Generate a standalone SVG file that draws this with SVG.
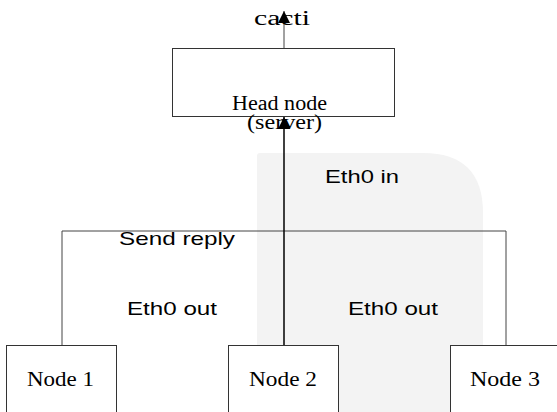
<svg xmlns="http://www.w3.org/2000/svg" width="557" height="412" viewBox="0 0 557 412">
<defs>
<style>
.box{fill:#fff;stroke:#333;stroke-width:1}
.ln{fill:none;stroke:#444;stroke-width:1}
.arr{fill:none;stroke:#000;stroke-width:1.5}
.serif{font-family:"Liberation Serif","Times New Roman",serif;font-size:20px;fill:#000}
.sans{font-family:"Liberation Sans",Arial,sans-serif;font-size:19px;fill:#000}
</style>
<marker id="ah2" viewBox="0 0 10 10" refX="10" refY="5" markerWidth="13" markerHeight="12" markerUnits="userSpaceOnUse" orient="auto">
<path d="M0,0 L10,5 L0,10 Z" fill="#000"/>
</marker>
</defs>
<rect width="557" height="412" fill="#fff"/>
<path d="M257,156 Q257,153 260,153 L423,153 Q483,153 483,213 L483,412 L257,412 Z" fill="#f3f3f3"/>
<g id="connectors">
<polyline class="ln" points="62,345 62,231 506,231 506,345"/>
<line class="arr" x1="284" y1="345" x2="284" y2="117" marker-end="url(#ah2)"/>
<line class="ln" x1="284" y1="48" x2="284" y2="11" marker-end="url(#ah2)"/>
</g>
<g id="cacti"><text class="serif" x="254" y="25" textLength="56" lengthAdjust="spacingAndGlyphs" font-size="23">cacti</text></g>
<g id="head">
<rect class="box" x="172.5" y="48.5" width="222" height="68"/>
<text class="serif" x="232" y="110" textLength="95" lengthAdjust="spacingAndGlyphs">Head node</text>
<text class="serif" x="247" y="129" textLength="75" lengthAdjust="spacingAndGlyphs" font-size="19">(server)</text>
</g>
<g id="labels">
<text class="sans" x="325" y="183" textLength="74" lengthAdjust="spacingAndGlyphs">Eth0 in</text>
<text class="sans" x="119" y="245" textLength="116" lengthAdjust="spacingAndGlyphs">Send reply</text>
<text class="sans" x="127" y="315" textLength="90" lengthAdjust="spacingAndGlyphs">Eth0 out</text>
<text class="sans" x="348" y="315" textLength="90" lengthAdjust="spacingAndGlyphs">Eth0 out</text>
</g>
<g id="node1">
<rect class="box" x="6.5" y="345.5" width="110" height="80"/>
<text class="serif" x="27" y="386" textLength="67" lengthAdjust="spacingAndGlyphs" font-size="21">Node 1</text>
</g>
<g id="node2">
<rect class="box" x="228.5" y="345.5" width="110" height="80"/>
<text class="serif" x="249" y="386" textLength="68" lengthAdjust="spacingAndGlyphs" font-size="21">Node 2</text>
</g>
<g id="node3">
<rect class="box" x="450.5" y="345.5" width="110" height="80"/>
<text class="serif" x="470" y="386" textLength="70" lengthAdjust="spacingAndGlyphs" font-size="21">Node 3</text>
</g>
</svg>
